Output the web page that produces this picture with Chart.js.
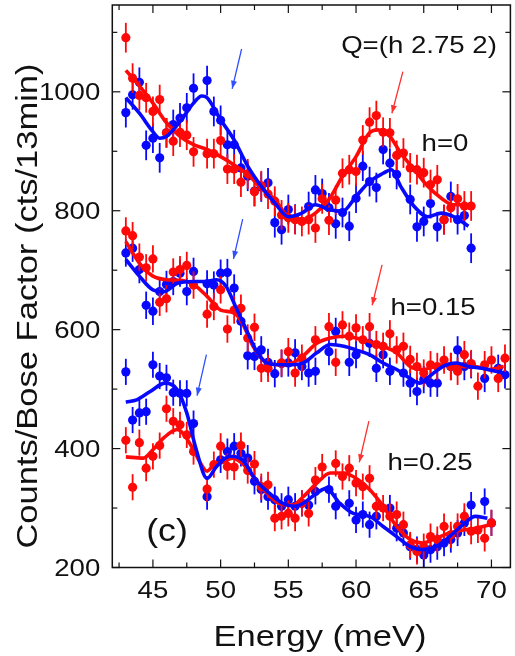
<!DOCTYPE html>
<html>
<head>
<meta charset="utf-8">
<title>Counts/Bose Factor vs Energy</title>
<script src="https://cdn.jsdelivr.net/npm/chart.js@4.4.0/dist/chart.umd.min.js"></script>
<style>
  html, body { margin: 0; padding: 0; background: #fff; }
  #c { display: block; }
</style>
</head>
<body>
<canvas id="c" width="515" height="656"></canvas>
<script>
/* ── DATA ─────────────────────────────────────────────────── */
// energy grid of the measured points (meV)
const energy = [43, 43.5, 44, 44.5, 45, 45.5, 46, 46.5, 47, 47.5, 48, 48.5, 49, 49.5,
  50, 50.5, 51, 51.5, 52, 52.5, 53, 53.5, 54, 54.5, 55, 55.5, 56, 56.5, 57, 57.5,
  58, 58.5, 59, 59.5, 60, 60.5, 61, 61.5, 62, 62.5, 63, 63.5, 64, 64.5, 65, 65.5,
  66, 66.5, 67, 67.5, 68, 68.5, 69, 69.5, 70, 70.5, 71];

// h = 0
const h0Red = [1091, 1023, 994, 990, 967, 987, 931, 917, 932, 927, 899, null, 896, 896,
  918, 870, 870, 848, 862, 832, 842, 828, 816, 793, 788, 785, 782, 785, 771, 820,
  784, 818, 863, 869, 866, 919, 949, 960, 932, 931, 893, 897, 872, 869, 864, 844,
  852, 785, 805, 820, 808, 808, null, null, null, null, null];
const h0Blue = [965, 995, 1016, 910, 922, 889, 931, 945, 956, 973, 1006, null, 1019, 967,
  952, 911, 911, 872, 858, 833, 840, 847, 780, 768, 802, 786, null, 807, 835, 829,
  805, 778, 797, 774, 821, 875, 849, 839, 903, 880, 861, null, 819, 773, 782, 812,
  773, 785, 824, 785, 792, 737, null, null, null, null, null];

// h = 0.15
const h15Red = [766, 758, 722, 704, 719, 646, 652, 697, 701, 708, 675, null, 626, 639,
  667, 601, 633, 636, 586, 604, 535, 535, null, 544, 563, 527, 552, null, 583, null,
  605, 545, 608, 589, 603, 583, 605, 575, 572, 593, 566, 572, 550, 538, 527, 541,
  538, 549, 538, 530, 558, 543, 505, 541, 549, 518, 552];
const h15Blue = [729, 737, 701, 641, 631, 664, 676, 681, 695, 664, 698, null, 677, 675,
  695, 696, 670, 614, 556, 555, 566, 545, 526, 543, 544, 561, 538, 527, 530, null,
  563, 597, null, 545, 558, null, 577, 535, 558, 530, null, 527, 510, 496, 516, 510,
  510, null, 538, 566, 538, 541, null, 518, null, 535, 524];

// h = 0.25
const h25Red = [414, 335, 410, 367, 387, 405, 467, 446, 440, 423, 395, null, 332, 373,
  404, 370, 369, 405, 363, 374, 336, 339, 283, 286, 291, 283, 308, 291, 347, 369,
  null, 375, 353, 367, 342, 336, 350, 303, 300, 286, 289, 272, 238, 227, 235, 252,
  247, 269, 255, 269, 286, 261, 263, 249, 275, null, null];
const h25Blue = [529, 448, 460, 462, 541, 522, 519, 494, 493, 493, 442, null, 319, null,
  381, 395, 404, 392, 384, 345, 331, 319, 314, 303, 314, 303, 308, 305, 328, null,
  331, 303, null, 308, 280, 289, 272, 286, null, 300, 266, 258, 235, 230, 221, 230,
  235, 241, 247, 258, 275, 305, null, 311, 275, null, null];

// error bar half-height (counts)
const errH0 = 25;
const errH15 = 23;
const errH25 = 22;

// fitted curves
const fitE0Red = [43, 44, 45, 46, 47, 48, 49, 50, 51, 52, 53, 54, 55, 56, 57, 58, 59, 60,
  61, 61.6, 62.5, 63.3, 64.3, 65.3, 66.3, 67.2, 68.5];
const fit0Red = [1036, 1010, 981, 948, 925, 911, 903, 891, 877, 861, 838, 819, 790, 785,
  796, 819, 858, 891, 931, 936, 925, 897, 869, 841, 821, 810, 810];
const fitE0Blue = [43, 44, 45, 45.5, 46, 47, 48, 48.6, 49, 50, 51, 52, 53, 54, 55, 56, 57,
  58, 59, 60, 61, 62, 62.6, 63.3, 64.3, 65.3, 66.3, 67.2, 68.3];
const fit0Blue = [990, 964, 933, 922, 925, 950, 981, 993, 990, 953, 919, 875, 841, 813,
  790, 796, 810, 802, 799, 824, 849, 863, 869, 841, 807, 790, 796, 790, 774];

const fitE15Red = [43, 44, 45, 46, 47, 48, 49, 50, 51, 51.6, 52.4, 53.3, 54.3, 55.3, 56.1,
  57.1, 58.1, 59.1, 60, 61, 62, 63, 64, 64.9, 65.9, 66.9, 67.9, 68.8, 69.8, 70.9];
const fit15Red = [748, 712, 690, 684, 683, 676, 656, 633, 628, 611, 572, 546, 541, 544,
  556, 577, 586, 589, 586, 580, 572, 561, 538, 533, 538, 541, 538, 538, 533, 538];
const fitE15Blue = [43, 44, 45, 45.8, 46.8, 48, 49, 49.7, 50.4, 51.1, 51.9, 52.6, 53.3,
  54.3, 55.3, 56.1, 57.1, 58.1, 59.1, 60, 61, 62, 63, 64, 64.7, 65.4, 66.4, 67.4, 68.3,
  69.3, 70.3, 70.9];
const fit15Blue = [718, 690, 667, 664, 678, 681, 681, 684, 673, 639, 600, 566, 546, 541,
  541, 544, 561, 575, 572, 566, 558, 544, 533, 518, 510, 521, 538, 544, 538, 535, 530, 527];

const fitE25Red = [43, 44.3, 45, 45.8, 46.8, 47.2, 48, 48.5, 49, 49.4, 50.2, 50.9, 51.6,
  52.4, 53.3, 54.3, 55.3, 56.1, 57.1, 58.1, 59.1, 60, 61, 62, 63, 64, 64.9, 65.9, 66.9,
  67.9, 68.8, 69.9];
const fit25Red = [386, 384, 398, 418, 432, 426, 398, 376, 362, 370, 378, 384, 375, 353,
  328, 308, 305, 319, 342, 359, 359, 350, 331, 303, 269, 247, 241, 249, 258, 263, 266, 272];
const fitE25Blue = [43, 43.8, 44.8, 45.9, 46.8, 47.5, 48.2, 49, 49.7, 50.7, 51.6, 52.6,
  53.6, 54.6, 55.5, 56.1, 57.1, 57.8, 58.8, 59.8, 61, 62, 63, 64, 64.9, 65.9, 66.9, 67.9,
  68.8, 69.7];
const fit25Blue = [478, 482, 496, 510, 499, 460, 398, 350, 370, 387, 381, 347, 325, 308,
  303, 308, 325, 333, 308, 291, 286, 269, 252, 235, 230, 235, 252, 272, 286, 283];

// axis ranges and ticks
const xRange = [42, 71.4];
const yRange = [200, 1146];
const xStep = 5;
const yStep = 200;

// arrows marking the excitations: [fromE, fromY, toE, toY, colour]
const arrows = [
  [51.55, 1072, 50.85, 1005, 'blue'],
  [63.46, 1034, 62.65, 964, 'red'],
  [51.63, 786, 50.95, 719, 'blue'],
  [61.92, 709, 61.19, 641, 'red'],
  [48.95, 558, 48.26, 489, 'blue'],
  [60.95, 446, 60.24, 377, 'red']
];

/* ── STYLE ────────────────────────────────────────────────── */
const RED = '#ff0808';
const BLUE = '#0808ff';
const ARROW_COL = { red: '#ff3030', blue: '#3050ff' };
const FONT = '"Liberation Sans", Arial, Helvetica, sans-serif';
const STRETCH = 1.15;   // original lettering is wider than Arial

function pts(xs, ys) {
  const out = [];
  xs.forEach((x, i) => { if (ys[i] != null) out.push({ x, y: ys[i] }); });
  return out;
}

function pointSet(label, ys, color, err, order) {
  return {
    label, data: pts(energy, ys), err, order,
    backgroundColor: color, borderColor: color,
    pointRadius: 4.6, pointBorderWidth: 0, showLine: false
  };
}

function fitSet(label, xs, ys, color, order) {
  return {
    label, data: pts(xs, ys), order,
    borderColor: color, backgroundColor: color,
    borderWidth: 3.6, pointRadius: 0, showLine: true,
    cubicInterpolationMode: 'monotone'
  };
}

function txt(ctx, s, x, y, size, align, angle) {
  ctx.save();
  ctx.translate(x, y);
  if (angle) ctx.rotate(angle);
  ctx.scale(STRETCH, 1);
  ctx.font = size + 'px ' + FONT;
  ctx.textAlign = align || 'center';
  ctx.textBaseline = 'alphabetic';
  ctx.fillStyle = '#111';
  ctx.fillText(s, 0, 0);
  ctx.restore();
}

/* ── PLUGINS ──────────────────────────────────────────────── */
const errorBars = {
  id: 'errorBars',
  beforeDatasetDraw(chart, args) {
    const ds = chart.data.datasets[args.index];
    if (!ds.err) return;
    const { ctx } = chart;
    const y = chart.scales.y;
    ctx.save();
    ctx.strokeStyle = ds.borderColor;
    ctx.lineWidth = 1.8;
    args.meta.data.forEach((el, i) => {
      const v = ds.data[i].y;
      ctx.beginPath();
      ctx.moveTo(el.x, y.getPixelForValue(v - ds.err));
      ctx.lineTo(el.x, y.getPixelForValue(v + ds.err));
      ctx.stroke();
    });
    ctx.restore();
  }
};

const frame = {
  id: 'frame',
  afterDraw(chart) {
    const { ctx, chartArea: a } = chart;
    const xs = chart.scales.x, ys = chart.scales.y;

    // arrows
    arrows.forEach(([e1, v1, e2, v2, c]) => {
      const x1 = xs.getPixelForValue(e1), y1 = ys.getPixelForValue(v1);
      const x2 = xs.getPixelForValue(e2), y2 = ys.getPixelForValue(v2);
      const ang = Math.atan2(y2 - y1, x2 - x1);
      ctx.save();
      ctx.strokeStyle = ctx.fillStyle = ARROW_COL[c];
      ctx.lineWidth = 1.3;
      ctx.beginPath(); ctx.moveTo(x1, y1); ctx.lineTo(x2, y2); ctx.stroke();
      ctx.beginPath();
      ctx.moveTo(x2, y2);
      ctx.lineTo(x2 - 8 * Math.cos(ang) + 3 * Math.sin(ang), y2 - 8 * Math.sin(ang) - 3 * Math.cos(ang));
      ctx.lineTo(x2 - 8 * Math.cos(ang) - 3 * Math.sin(ang), y2 - 8 * Math.sin(ang) + 3 * Math.cos(ang));
      ctx.closePath(); ctx.fill();
      ctx.restore();
    });

    // box + inward ticks
    ctx.save();
    ctx.strokeStyle = '#111';
    ctx.lineWidth = 1.5;
    ctx.strokeRect(a.left, a.top, a.right - a.left, a.bottom - a.top);
    ctx.lineWidth = 1.2;
    const tick = (x1, y1, x2, y2) => { ctx.beginPath(); ctx.moveTo(x1, y1); ctx.lineTo(x2, y2); ctx.stroke(); };
    for (let v = xs.ticks[0].value - xStep / 2; v <= xs.max; v += xStep / 2) {
      if (v < xs.min) continue;
      const px = xs.getPixelForValue(v);
      const len = Math.abs((v / xStep) - Math.round(v / xStep)) < 1e-6 ? 8 : 5;
      tick(px, a.bottom, px, a.bottom - len);
      tick(px, a.top, px, a.top + len);
    }
    for (let v = ys.min; v <= ys.max; v += yStep / 2) {
      const py = ys.getPixelForValue(v);
      const len = Math.abs((v / yStep) - Math.round(v / yStep)) < 1e-6 ? 8 : 5;
      tick(a.left, py, a.left + len, py);
      tick(a.right, py, a.right - len, py);
    }
    ctx.restore();

    // tick labels
    xs.ticks.forEach(t => txt(ctx, String(t.value), xs.getPixelForValue(t.value), a.bottom + 30, 24, 'center'));
    ys.ticks.forEach(t => {
      ctx.save();
      ctx.translate(a.left - 12, ys.getPixelForValue(t.value) + 8.5);
      ctx.scale(STRETCH, 1);
      ctx.font = '24px ' + FONT;
      ctx.textAlign = 'right';
      ctx.fillStyle = '#111';
      ctx.fillText(String(t.value), 0, 0);
      ctx.restore();
    });

    // axis titles
    txt(ctx, 'Energy (meV)', 320, 646, 30, 'center');
    txt(ctx, 'Counts/Bose Factor (cts/13min)', 37, 306, 30, 'center', -Math.PI / 2);

    // annotations
    txt(ctx, 'Q=(h 2.75 2)', 419, 53, 24, 'center');
    txt(ctx, 'h=0', 445, 151, 24, 'center');
    txt(ctx, 'h=0.15', 433, 315, 24, 'center');
    txt(ctx, 'h=0.25', 430, 470, 24, 'center');
    txt(ctx, '(c)', 167, 541, 31, 'center');
  }
};

/* ── CHART ────────────────────────────────────────────────── */
new Chart(document.getElementById('c'), {
  type: 'scatter',
  data: {
    datasets: [
      fitSet('h=0 fit (blue)', fitE0Blue, fit0Blue, BLUE, 1),
      fitSet('h=0.15 fit (blue)', fitE15Blue, fit15Blue, BLUE, 1),
      fitSet('h=0.25 fit (blue)', fitE25Blue, fit25Blue, BLUE, 1),
      fitSet('h=0 fit (red)', fitE0Red, fit0Red, RED, 2),
      fitSet('h=0.15 fit (red)', fitE15Red, fit15Red, RED, 2),
      fitSet('h=0.25 fit (red)', fitE25Red, fit25Red, RED, 2),
      pointSet('h=0 red', h0Red, RED, errH0, 3),
      pointSet('h=0.15 red', h15Red, RED, errH15, 3),
      pointSet('h=0.25 red', h25Red, RED, errH25, 3),
      pointSet('h=0 blue', h0Blue, BLUE, errH0, 4),
      pointSet('h=0.15 blue', h15Blue, BLUE, errH15, 4),
      pointSet('h=0.25 blue', h25Blue, BLUE, errH25, 4)
    ]
  },
  options: {
    responsive: false,
    animation: false,
    events: [],
    layout: { padding: { left: 0, right: 2, top: 5, bottom: 0 } },
    plugins: { legend: { display: false }, tooltip: { enabled: false } },
    scales: {
      x: {
        type: 'linear', min: xRange[0], max: xRange[1],
        ticks: { display: false, stepSize: xStep, includeBounds: false },
        grid: { display: false }, border: { display: false },
        afterFit: s => { s.height = 88.5; }
      },
      y: {
        type: 'linear', min: yRange[0], max: yRange[1],
        ticks: { display: false, stepSize: yStep, includeBounds: false },
        grid: { display: false }, border: { display: false },
        afterFit: s => { s.width = 112.3; }
      }
    }
  },
  plugins: [errorBars, frame]
});
</script>
</body>
</html>
